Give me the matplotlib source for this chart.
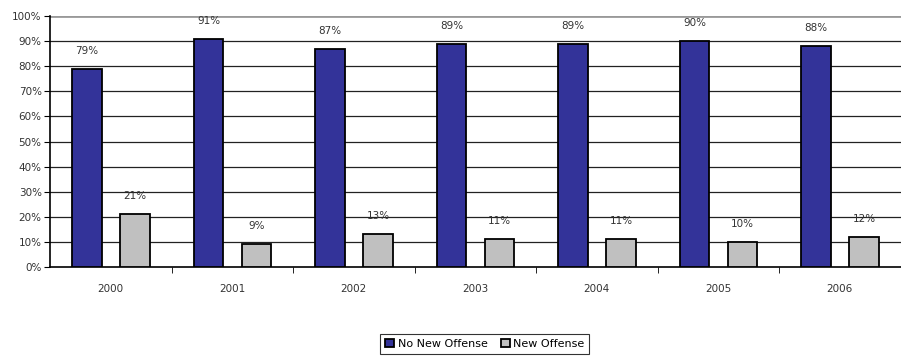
import numpy as np
import matplotlib.pyplot as plt

years = ["2000", "2001", "2002", "2003", "2004", "2005", "2006"]
no_new = [79, 91, 87, 89, 89, 90, 88]
new_off = [21, 9, 13, 11, 11, 10, 12]

fig = plt.figure(figsize=(9.01, 3.56), dpi=100)
ax = fig.add_axes([0.0555, 0.25, 0.944, 0.705])

x = np.arange(len(years))
w = 0.245
b1 = ax.bar(x - 0.195, no_new, w, color="#333399", edgecolor="black", linewidth=1.3,
            label="No New Offense", zorder=3)
b2 = ax.bar(x + 0.2, new_off, w, color="#c0c0c0", edgecolor="black", linewidth=1.3,
            label="New Offense", zorder=3)

for bars, vals in ((b1, no_new), (b2, new_off)):
    for r, v in zip(bars, vals):
        ax.annotate(f"{v}%", (r.get_x() + r.get_width() / 2, v), xytext=(0, 13),
                    textcoords="offset points", ha="center", va="center",
                    fontsize=7.5, color="#333333", annotation_clip=False)

ax.set_xlim(-0.5, len(years) - 0.5)
ax.set_ylim(0, 100)
ax.set_yticks(np.arange(0, 101, 10))
ax.set_yticklabels([f"{t}%" for t in range(0, 101, 10)], fontsize=7.5, color="#333333")
ax.set_xticks(x)
ax.set_xticklabels(years, fontsize=7.5, color="#333333")
ax.set_xticks(np.arange(0.5, len(years) - 0.5, 1), minor=True)
ax.tick_params(axis="x", which="major", length=0, pad=12)
ax.tick_params(axis="x", which="minor", length=4, direction="out")
ax.tick_params(axis="y", length=4, direction="out", pad=2)

for y in range(10, 100, 10):
    ax.axhline(y, color="#222222", linewidth=0.9, zorder=1)
ax.axhline(100, color="#999999", linewidth=2, zorder=1)

for s in ("top", "right"):
    ax.spines[s].set_visible(False)
ax.spines["left"].set_linewidth(1.2)
ax.spines["bottom"].set_linewidth(1.2)

leg = fig.legend(loc="center", bbox_to_anchor=(0.538, 0.034), ncol=2, fontsize=8,
                 frameon=True, fancybox=False, edgecolor="black", handlelength=0.8,
                 handleheight=0.8, handletextpad=0.3, columnspacing=1.2,
                 borderpad=0.45)
leg.get_frame().set_linewidth(0.8)

fig.savefig("out.png", dpi=100)
